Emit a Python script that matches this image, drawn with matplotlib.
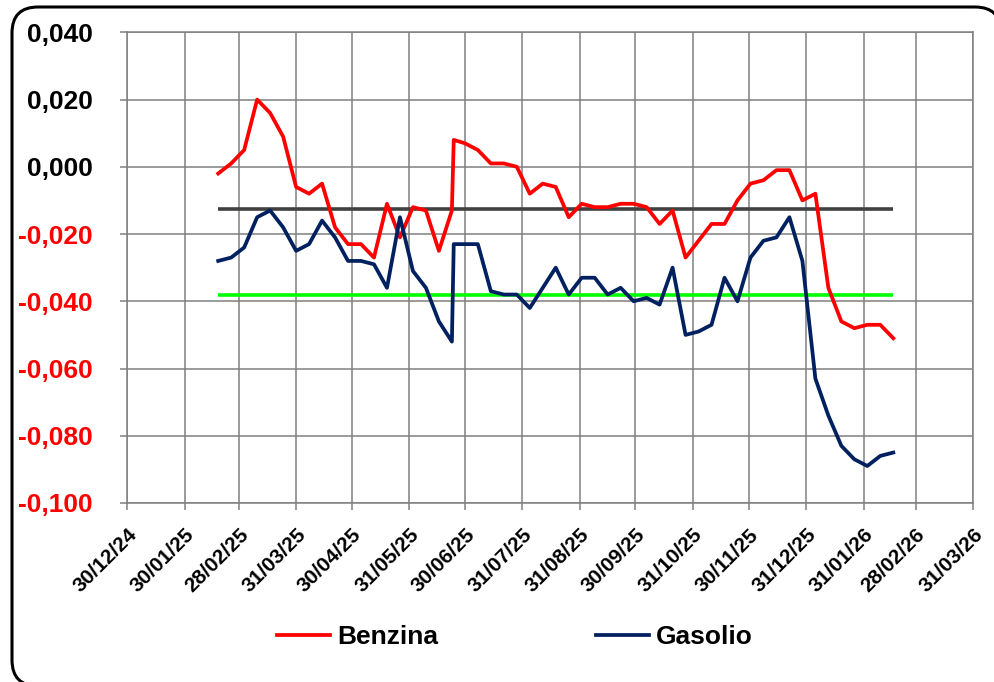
import matplotlib
matplotlib.use('Agg')
import matplotlib.pyplot as plt
import matplotlib.dates as mdates
from matplotlib.patches import PathPatch
from matplotlib.path import Path
from matplotlib.transforms import IdentityTransform
import pandas as pd

plt.rcParams['font.family'] = ['Liberation Sans', 'DejaVu Sans']
plt.rcParams['font.weight'] = 'bold'

# date settimanali (lunedi) + un punto in piu' il 24/06
dates = pd.to_datetime([
    '2025-02-17', '2025-02-24', '2025-03-03', '2025-03-10', '2025-03-17',
    '2025-03-24', '2025-03-31', '2025-04-07', '2025-04-14', '2025-04-21',
    '2025-04-28', '2025-05-05', '2025-05-12', '2025-05-19', '2025-05-26',
    '2025-06-02', '2025-06-09', '2025-06-16', '2025-06-23', '2025-06-24',
    '2025-06-30', '2025-07-07', '2025-07-14', '2025-07-21', '2025-07-28',
    '2025-08-04', '2025-08-11', '2025-08-18', '2025-08-25', '2025-09-01',
    '2025-09-08', '2025-09-15', '2025-09-22', '2025-09-29', '2025-10-06',
    '2025-10-13', '2025-10-20', '2025-10-27', '2025-11-03', '2025-11-10',
    '2025-11-17', '2025-11-24', '2025-12-01', '2025-12-08', '2025-12-15',
    '2025-12-22', '2025-12-29', '2026-01-05', '2026-01-12', '2026-01-19',
    '2026-01-26', '2026-02-02', '2026-02-09', '2026-02-16',
])

benzina = [
    -0.002, 0.001, 0.005, 0.020, 0.016, 0.009, -0.006, -0.008, -0.005, -0.018,
    -0.023, -0.023, -0.027, -0.011, -0.021, -0.012, -0.013, -0.025, -0.013, 0.008,
    0.007, 0.005, 0.001, 0.001, 0.000, -0.008, -0.005, -0.006, -0.015, -0.011,
    -0.012, -0.012, -0.011, -0.011, -0.012, -0.017, -0.013, -0.027, -0.022, -0.017,
    -0.017, -0.010, -0.005, -0.004, -0.001, -0.001, -0.010, -0.008, -0.036, -0.046,
    -0.048, -0.047, -0.047, -0.051,
]

gasolio = [
    -0.028, -0.027, -0.024, -0.015, -0.013, -0.018, -0.025, -0.023, -0.016, -0.021,
    -0.028, -0.028, -0.029, -0.036, -0.015, -0.031, -0.036, -0.046, -0.052, -0.023,
    -0.023, -0.023, -0.037, -0.038, -0.038, -0.042, -0.036, -0.030, -0.038, -0.033,
    -0.033, -0.038, -0.036, -0.040, -0.039, -0.041, -0.030, -0.050, -0.049, -0.047,
    -0.033, -0.040, -0.027, -0.022, -0.021, -0.015, -0.028, -0.063, -0.074, -0.083,
    -0.087, -0.089, -0.086, -0.085,
]

# linee di riferimento (medie)
media_benzina = -0.0127
media_gasolio = -0.038

tick_dates = pd.to_datetime([
    '2024-12-30', '2025-01-30', '2025-02-28', '2025-03-31', '2025-04-30',
    '2025-05-31', '2025-06-30', '2025-07-31', '2025-08-31', '2025-09-30',
    '2025-10-31', '2025-11-30', '2025-12-31', '2026-01-31', '2026-02-28',
    '2026-03-31',
])
y_ticks = [-0.100, -0.080, -0.060, -0.040, -0.020, 0.000, 0.020, 0.040]

fig = plt.figure(figsize=(9.94, 6.82), dpi=100)
ax = fig.add_axes([0.1281, 0.2625, 0.8508, 0.6901])

ax.hlines(media_benzina, dates[0], dates[-1], color='#404040', lw=2.6, zorder=3)
ax.hlines(media_gasolio, dates[0], dates[-1], color='#00FF00', lw=2.6, zorder=3)
ax.plot(dates, benzina, color='#FF0000', lw=2.7, label='Benzina', zorder=4)
ax.plot(dates, gasolio, color='#002060', lw=2.7, label='Gasolio', zorder=4)

ax.set_xlim(tick_dates[0], tick_dates[-1])
ax.set_ylim(-0.100, 0.040)
ax.set_xticks(tick_dates)
ax.xaxis.set_major_formatter(mdates.DateFormatter('%d/%m/%y'))
ax.set_yticks(y_ticks)
ax.set_yticklabels([f'{v:.3f}'.replace('.', ',') for v in y_ticks])

ax.grid(True, color='#808080', lw=1.1)
ax.set_axisbelow(True)
for s in ax.spines.values():
    s.set_color('#808080')
    s.set_linewidth(1.1)
ax.tick_params(axis='both', length=5, width=1.1, color='#808080')
ax.tick_params(axis='y', pad=20, labelsize=19)
ax.tick_params(axis='x', pad=11, labelsize=15)

for lab, v in zip(ax.get_yticklabels(), y_ticks):
    lab.set_color('red' if v < 0 else 'black')
    lab.set_fontweight('bold')
for lab in ax.get_xticklabels():
    lab.set_rotation(45)
    lab.set_ha('right')
    lab.set_va('top')
    lab.set_rotation_mode('anchor')
    lab.set_fontweight('bold')

fig.legend(loc='center', bbox_to_anchor=(0.518, 0.066), ncol=2, frameon=False,
           prop={'size': 19, 'weight': 'bold'}, handlelength=2.0,
           handletextpad=0.25, columnspacing=6.0)

# cornice arrotondata (pixel, origine in basso a sinistra)
x0, x1, y0, y1, r = 12, 1001, -4, 675, 26
verts = [(x1, y1 - r), (x1, y1), (x1 - r, y1),
         (x0 + r, y1), (x0, y1), (x0, y1 - r),
         (x0, y0 + r), (x0, y0), (x0 + r, y0)]
codes = [Path.MOVETO, Path.CURVE3, Path.CURVE3,
         Path.LINETO, Path.CURVE3, Path.CURVE3,
         Path.LINETO, Path.CURVE3, Path.CURVE3]
frame = PathPatch(Path(verts, codes), fill=False, ec='black', lw=2.2,
                  transform=IdentityTransform())
fig.add_artist(frame)

fig.savefig('out.png', dpi=100)
